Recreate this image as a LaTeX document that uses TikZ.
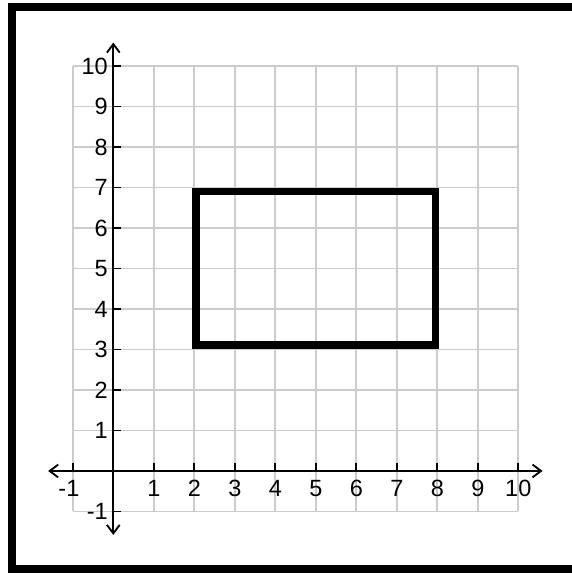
\documentclass[tikz,border=0pt]{standalone}
\usepackage{fontspec}
\setmainfont{Liberation Sans}
\usetikzlibrary{arrows.meta}
\begin{document}
\begin{tikzpicture}[
  gridline/.style={draw=gray!40, line width=1.3pt},
  axisline/.style={draw=black, line width=1.3pt, {Straight Barb[length=6pt,width=9pt]}-{Straight Barb[length=6pt,width=9pt]}},
  tickline/.style={draw=black, line width=1.3pt},
  labfont/.style={inner sep=0pt, font=\fontsize{16.5}{18}\selectfont},
  xlab/.style={labfont, anchor=base},
  ylab/.style={labfont, anchor=east},
  rectstyle/.style={draw=black, line width=5.3pt, line join=miter},
  outerframe/.style={draw=black, line width=5.6pt, line join=miter}
]
\useasboundingbox (-2.798,-2.519) rectangle (11.326,11.630);
% outer frame (right side lies outside the picture)
\draw[outerframe] (12,11.457) -| (-2.501,-2.432) -- (12,-2.432);
% grid
\draw[gridline] (-1,-1) grid (10,10);
% rectangle
\draw[rectstyle] (2.042,3.111) rectangle (7.956,6.896);
% axes
\coordinate (xl) at (-1.61,0);
\coordinate (xr) at (10.60,0);
\coordinate (yb) at (0,-1.58);
\coordinate (yt) at (0,10.58);
\draw[axisline] (xl) -- (xr);
\draw[axisline] (yb) -- (yt);
% ticks
\foreach \v in {-1,1,2,3,4,5,6,7,8,9,10}{
  \draw[tickline] (\v,0) -- (\v,0.2);
  \draw[tickline] (0,\v) -- (0.2,\v);
}
% labels
\foreach \v in {1,2,3,4,5,6,7,8,9,10}{
  \node[xlab] (xlab\v) at (\v,-0.63) {\v};
  \node[ylab] (ylab\v) at (-0.13,\v) {\v};
}
\node[xlab] (xlabm1) at (-1,-0.63) {\llap{-}1};
\node[ylab] (ylabm1) at (-0.13,-1) {-1};
\end{tikzpicture}
\end{document}
